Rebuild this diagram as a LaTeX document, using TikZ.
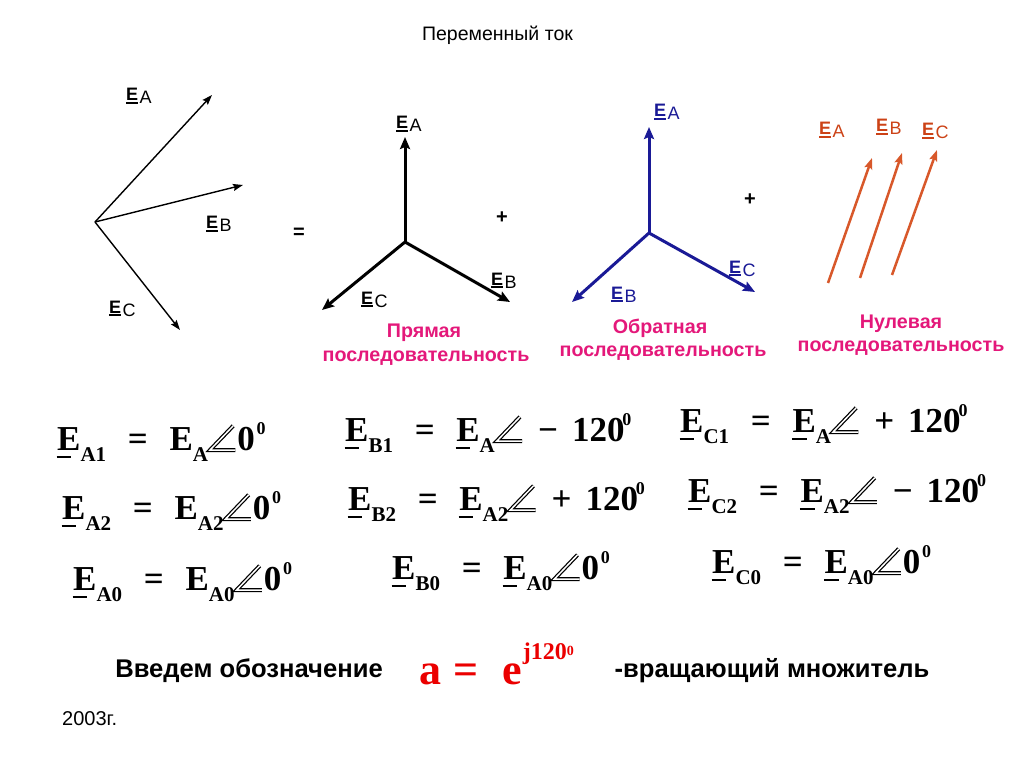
\documentclass[tikz,border=0pt]{standalone}
\usepackage{fontspec}
\setmainfont{Liberation Sans}
\newfontfamily\tnr{Liberation Serif}
\usetikzlibrary{arrows.meta}
\definecolor{pinkc}{RGB}{228,24,122}
\definecolor{navyc}{RGB}{26,26,150}
\definecolor{orangec}{RGB}{216,88,42}
\definecolor{orangel}{RGB}{204,66,22}
\definecolor{redc}{RGB}{235,0,0}
% top labels
\newcommand\lE[1]{\rlap{\rule[-3pt]{12pt}{2pt}}E\hspace{1.5pt}\raisebox{-3pt}{\mdseries\fontsize{18}{18}\selectfont #1}}
% equations
\newcommand\eqsub[1]{\raisebox{-0.34em}{\fontsize{21}{21}\selectfont#1}}
\newcommand\eqsup[1]{\raisebox{0.43em}{\fontsize{18}{18}\selectfont#1}}
\newcommand\Eu{\rlap{\hspace{-0.02em}\rule[-0.24em]{0.42em}{0.065em}}E}
\newcommand\angl{\tikz[baseline=0pt]\draw[double=white,double distance=1.5pt,line width=1.25pt] (0.66em,0.69em) -- (0pt,0pt) -- (0.72em,0pt);}
\newcommand\gap{\hspace{0.62em}}
\newcommand\sgap{\hspace{0.4em}}
\begin{document}
\begin{tikzpicture}[x=1pt,y=-1pt,
  lbl/.style={anchor=base west, inner sep=0pt, font=\fontsize{18}{18}\selectfont\bfseries},
  thinvec/.style={line width=1.4pt, -{Stealth[length=10pt,width=7pt,inset=1.5pt]}},
  thickvec/.style={line width=3pt, -{Stealth[length=12pt,width=10pt,inset=2pt]}},
  orvec/.style={orangec, line width=2.5pt, -{Stealth[length=11pt,width=8pt,inset=2pt]}},
  seqtxt/.style={anchor=base, inner sep=0pt, font=\fontsize{19.7}{19.7}\selectfont\bfseries, text=pinkc},
  opsym/.style={inner sep=0pt, font=\fontsize{20}{20}\selectfont\bfseries},
  eq/.style={anchor=base west, inner sep=0pt, font=\tnr\bfseries\fontsize{35}{35}\selectfont},
  bottxt/.style={anchor=base, inner sep=0pt, font=\fontsize{25.6}{25.6}\selectfont\bfseries}]
\fill[white] (0,0) rectangle (1024,767);
\useasboundingbox (0,0) rectangle (1024,767);

% title
\node[anchor=base, inner sep=0pt, font=\fontsize{19.5}{19.5}\selectfont] (title) at (497.5,41) {Переменный ток};

% left diagram
\coordinate (o1) at (95,222);
\coordinate (ta1) at (212,95);
\coordinate (tb1) at (243,185);
\coordinate (tc1) at (180,330);
\draw[thinvec] (o1) -- (ta1);
\draw[thinvec] (o1) -- (tb1);
\draw[thinvec] (o1) -- (tc1);
\node[lbl] (la1) at (126,101) {\lE{A}};
\node[lbl] (lb1) at (206,229) {\lE{B}};
\node[lbl] (lc1) at (109,313) {\lE{C}};
\node[opsym] (eqs) at (299,233) {=};

% direct sequence
\coordinate (o2) at (405,242);
\coordinate (ta2) at (405,137);
\coordinate (tb2) at (510,302);
\coordinate (tc2) at (322,310);
\draw[thickvec] (o2) -- (ta2);
\draw[thickvec] (o2) -- (tb2);
\draw[thickvec] (o2) -- (tc2);
\node[lbl] (la2) at (396,129) {\lE{A}};
\node[lbl] (lb2) at (491,285) {\lE{B}};
\node[lbl] (lc2) at (361,304) {\lE{C}};
\node[opsym] (plus1) at (502,218) {+};
\node[seqtxt] (s1a) at (424,337) {Прямая};
\node[seqtxt] (s1b) at (426,361) {последовательность};

% inverse sequence
\coordinate (o3) at (649,233);
\coordinate (ta3) at (649,127);
\coordinate (tc3) at (755,292);
\coordinate (tb3) at (572,302);
\draw[thickvec, navyc] (o3) -- (ta3);
\draw[thickvec, navyc] (o3) -- (tc3);
\draw[thickvec, navyc] (o3) -- (tb3);
\node[lbl, text=navyc] (la3) at (654,117) {\lE{A}};
\node[lbl, text=navyc] (lc3) at (729,273) {\lE{C}};
\node[lbl, text=navyc] (lb3) at (611,299) {\lE{B}};
\node[opsym] (plus2) at (750,200) {+};
\node[seqtxt] (s2a) at (660,333) {Обратная};
\node[seqtxt] (s2b) at (663,356) {последовательность};

% zero sequence
\coordinate (za0) at (828,283);
\coordinate (za1) at (872,158);
\coordinate (zb0) at (860,278);
\coordinate (zb1) at (902,153);
\coordinate (zc0) at (892,275);
\coordinate (zc1) at (937,150);
\draw[orvec] (za0) -- (za1);
\draw[orvec] (zb0) -- (zb1);
\draw[orvec] (zc0) -- (zc1);
\node[lbl, text=orangel] (la4) at (819,135) {\lE{A}};
\node[lbl, text=orangel] (lb4) at (876,132) {\lE{B}};
\node[lbl, text=orangel] (lc4) at (922,136) {\lE{C}};
\node[seqtxt] (s3a) at (901,328) {Нулевая};
\node[seqtxt] (s3b) at (901,351) {последовательность};

% equations
\node[eq] (ea1) at (57,450) {\Eu\eqsub{A1}\gap=\gap E\eqsub{A}\angl 0\hspace{0.05em}\eqsup{0}};
\node[eq] (ea2) at (62,519) {\Eu\eqsub{A2}\gap=\gap E\eqsub{A2}\angl 0\hspace{0.05em}\eqsup{0}};
\node[eq] (ea0) at (73,590) {\Eu\eqsub{A0}\gap=\gap E\eqsub{A0}\angl 0\hspace{0.05em}\eqsup{0}};

\node[eq] (eb1) at (345,441) {\Eu\eqsub{B1}\gap=\gap\Eu\eqsub{A}\angl\sgap−\sgap 120\hspace{-0.06em}\eqsup{0}};
\node[eq] (eb2) at (348,510) {\Eu\eqsub{B2}\gap=\gap\Eu\eqsub{A2}\angl\sgap+\sgap 120\hspace{-0.06em}\eqsup{0}};
\node[eq] (eb0) at (392,579) {\Eu\eqsub{B0}\gap=\gap\Eu\eqsub{A0}\angl 0\hspace{0.05em}\eqsup{0}};

\node[eq] (ec1) at (680,432) {\Eu\eqsub{C1}\gap=\gap\Eu\eqsub{A}\angl\sgap+\sgap 120\hspace{-0.06em}\eqsup{0}};
\node[eq] (ec2) at (688,502) {\Eu\eqsub{C2}\gap=\gap\Eu\eqsub{A2}\angl\sgap−\sgap 120\hspace{-0.06em}\eqsup{0}};
\node[eq] (ec0) at (712,573) {\Eu\eqsub{C0}\gap=\gap\Eu\eqsub{A0}\angl 0\hspace{0.05em}\eqsup{0}};

% bottom line
\node[bottxt] (intro) at (249,677) {Введем обозначение};
\node[anchor=base west, inner sep=0pt, text=redc, font=\tnr\bfseries] (aformula) at (419,684)
  {{\fontsize{44}{44}\selectfont a\hspace{12pt}=\hspace{24pt}e}\hspace{1pt}\raisebox{25pt}{\fontsize{24}{24}\selectfont j120}\hspace{0pt}\raisebox{29pt}{\fontsize{14}{14}\selectfont 0}};
\node[bottxt] (rot) at (772,677) {-вращающий множитель};
\node[anchor=base west, inner sep=0pt, font=\fontsize{20}{20}\selectfont] (year) at (62,725) {2003г.};
\end{tikzpicture}
\end{document}
